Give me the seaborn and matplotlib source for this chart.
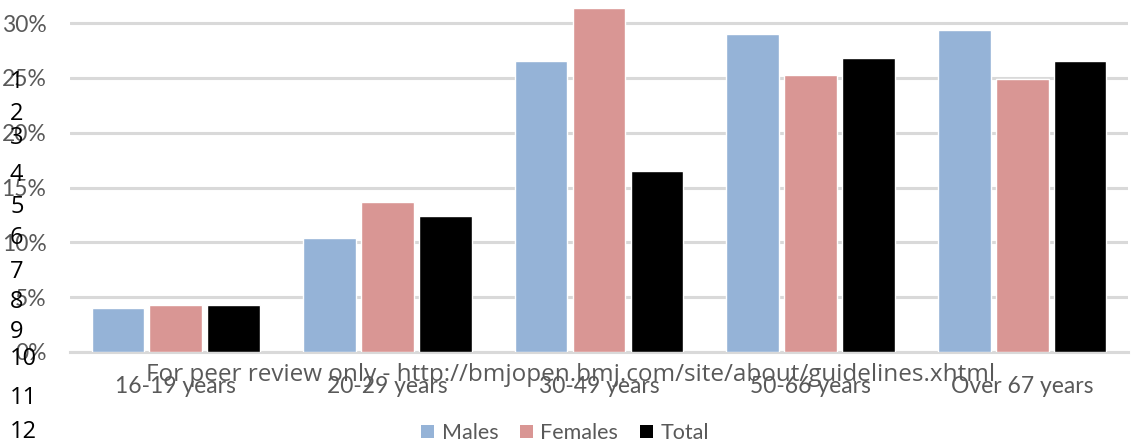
import matplotlib
matplotlib.use("Agg")
import matplotlib.pyplot as plt
import seaborn as sns
import pandas as pd
from matplotlib.patches import Patch

# Share of respondents by age group (%)
age_groups = ["16-19 years", "20-29 years", "30-49 years", "50-66 years", "Over 67 years"]
males = [4.0, 10.4, 26.5, 29.0, 29.4]
females = [4.3, 13.7, 31.4, 25.3, 24.9]
total = [4.3, 12.4, 16.5, 26.8, 26.5]
series_names = ["Males", "Females", "Total"]
y_ticks = [0, 5, 10, 15, 20, 25, 30]
line_numbers = list(range(1, 13))
footer_note = "For peer review only - http://bmjopen.bmj.com/site/about/guidelines.xhtml"

df = pd.DataFrame({
    "age": age_groups * 3,
    "series": [s for s in series_names for _ in age_groups],
    "pct": males + females + total,
})

sns.set_theme(style="white")
plt.rcParams["font.family"] = ["Lato", "DejaVu Sans"]

colors = {"Males": "#95B3D7", "Females": "#D99694", "Total": "#000000"}
text_grey = "#595959"
grid_grey = "#D9D9D9"

fig = plt.figure(figsize=(11.32, 4.45), dpi=100)
ax = fig.add_axes([70 / 1132, 93 / 445, 1058 / 1132, 352 / 445])

sns.barplot(data=df, x="age", y="pct", hue="series", hue_order=series_names,
            order=age_groups, palette=colors, width=0.82, gap=0.09,
            saturation=1, legend=False, ax=ax, zorder=3)

ax.set_ylim(0, 32.1)
ax.set_xlim(-0.5, len(age_groups) - 0.5)
ax.set_yticks(y_ticks)
ax.set_yticklabels([f"{v}%" for v in y_ticks])
ax.set_xlabel("")
ax.set_ylabel("")
ax.yaxis.grid(True, color=grid_grey, linewidth=2.2, zorder=0)
ax.set_axisbelow(True)
for side in ["top", "right", "left"]:
    ax.spines[side].set_visible(False)
ax.spines["bottom"].set_color(grid_grey)
ax.spines["bottom"].set_linewidth(2.2)
ax.tick_params(axis="both", length=0, colors=text_grey, labelsize=16.5)
ax.tick_params(axis="y", pad=17)
ax.tick_params(axis="x", pad=17)
for lbl in ax.get_yticklabels():
    lbl.set_horizontalalignment("right")

handles = [Patch(facecolor=colors[s], edgecolor="none") for s in series_names]
leg = fig.legend(handles, series_names, loc="center", ncol=3, frameon=False,
                 bbox_to_anchor=(565 / 1132, 1 - 433 / 445),
                 handlelength=0.6, handleheight=0.6, handletextpad=0.35,
                 columnspacing=1.0, fontsize=15.5)
for t in leg.get_texts():
    t.set_color(text_grey)

# Manuscript line numbering down the left margin
line_y = [82, 114, 138, 175, 207, 238, 272, 302, 332, 359, 398, 432]
for n, yy in zip(line_numbers, line_y):
    fig.text(10 / 1132, 1 - yy / 445, str(n), ha="left", va="center",
             fontsize=17, color="#000000", family=["Open Sans", "DejaVu Sans"])

fig.text(571 / 1132, 1 - 375 / 445, footer_note, ha="center", va="center",
         fontsize=17.5, color=text_grey, family=["Open Sans", "DejaVu Sans"])

fig.savefig("out.png", dpi=100)
